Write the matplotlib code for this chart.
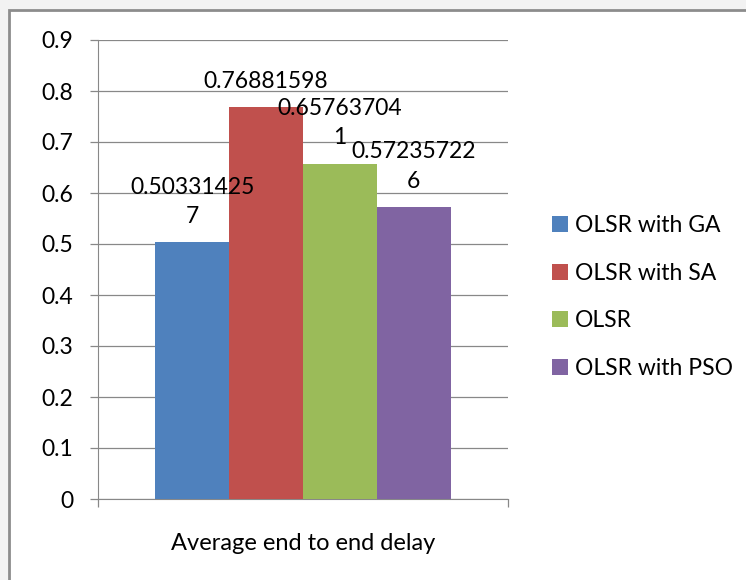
"""Average end to end delay for OLSR variants, bar chart."""

import matplotlib

matplotlib.use("Agg")
import matplotlib.pyplot as plt  # noqa: E402
from matplotlib.patches import Rectangle  # noqa: E402

CATEGORY = "Average end to end delay"
SERIES = ["OLSR with GA", "OLSR with SA", "OLSR", "OLSR with PSO"]
VALUES = [0.503314257, 0.76881598, 0.657637041, 0.572357226]
LABELS = ["0.50331425\n7", "0.76881598", "0.65763704\n1", "0.57235722\n6"]
COLORS = ["#4F81BD", "#C0504D", "#9BBB59", "#8064A2"]
Y_TICKS = [0, 0.1, 0.2, 0.3, 0.4, 0.5, 0.6, 0.7, 0.8, 0.9]

FS = 16.5
plt.rcParams["font.family"] = ["Lato", "DejaVu Sans"]

fig = plt.figure(figsize=(7.46, 5.8), dpi=100, facecolor="#f2f2f2")
# chart frame
fig.patches.append(
    Rectangle((9 / 746, -0.05), 1.2, 1 - 10 / 580 + 0.05, transform=fig.transFigure,
              facecolor="white", edgecolor="#8c8c8c", linewidth=2.0, zorder=-1)
)

ax = fig.add_axes([98 / 746, 1 - 499 / 580, 410 / 746, 459 / 580])
ax.set_facecolor("none")

width = 0.18
for i, (name, val, lab, col) in enumerate(zip(SERIES, VALUES, LABELS, COLORS)):
    x = (i - 1.5) * width
    ax.bar(x, val, width=width, color=col, label=name, zorder=3)
    ax.annotate(lab, (x, val), xytext=(0, 11), textcoords="offset points",
                ha="center", va="bottom", fontsize=FS, linespacing=1.5, zorder=4)

ax.set_xlim(-0.5, 0.5)
ax.set_ylim(0, 0.9)
ax.set_yticks(Y_TICKS)
ax.set_yticklabels([f"{t:g}" for t in Y_TICKS])
ax.set_xticks([-0.5, 0.5])
ax.set_xticklabels(["", ""])
ax.set_xlabel(CATEGORY, fontsize=17, labelpad=15)

ax.grid(axis="y", color="#888888", linewidth=0.9, zorder=0)
for side in ("top", "right"):
    ax.spines[side].set_visible(False)
ax.spines["left"].set_color("#888888")
ax.spines["bottom"].set_color("#888888")
ax.tick_params(axis="both", colors="#888888", labelcolor="black", labelsize=FS,
               direction="out", length=5.8, width=0.9)
ax.tick_params(axis="y", pad=12)

fig.legend(loc="center left", bbox_to_anchor=(531 / 746, 1 - 297 / 580), frameon=False,
           fontsize=FS, handlelength=0.7, handleheight=0.7, handletextpad=0.3,
           labelspacing=1.17)

fig.savefig("out.png", dpi=100, facecolor=fig.get_facecolor())
